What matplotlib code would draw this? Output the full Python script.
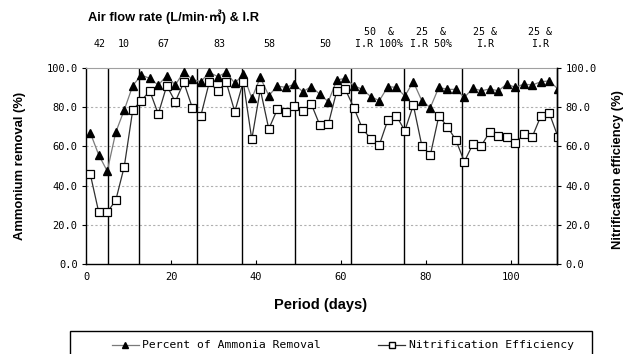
import matplotlib
matplotlib.use("Agg")
import matplotlib.pyplot as plt
from matplotlib.lines import Line2D
from matplotlib.patches import Rectangle
import matplotlib.transforms as mtransforms

# Sampling days (every second day)
days = list(range(1, 112, 2))

ammonia_removal = [67.0, 55.6, 47.4, 67.2, 78.6, 91.0, 96.4, 94.7, 91.3, 96.1,
                   91.3, 98.1, 94.2, 93.0, 97.8, 95.6, 97.8, 92.2, 96.8, 84.5,
                   95.2, 85.9, 90.8, 90.1, 91.7, 87.9, 90.5, 86.6, 82.8, 93.9,
                   94.7, 91.0, 89.1, 85.4, 83.3, 90.5, 90.1, 85.7, 93.0, 83.3,
                   79.8, 90.1, 89.1, 89.1, 85.0, 89.6, 88.4, 89.3, 88.4, 91.8,
                   90.1, 91.8, 91.3, 93.0, 93.4, 89.3]

nitrification = [45.9, 26.4, 26.4, 32.5, 49.7, 78.6, 83.3, 88.3, 76.5, 91.0,
                 82.8, 92.7, 79.8, 75.5, 92.7, 88.3, 92.7, 77.7, 93.0, 63.6,
                 89.1, 68.9, 78.9, 77.7, 80.6, 78.2, 81.6, 70.9, 71.3, 88.4,
                 89.1, 79.8, 69.2, 63.8, 60.7, 73.5, 75.7, 68.0, 81.1, 60.4,
                 55.6, 75.5, 70.1, 63.3, 52.2, 61.1, 60.4, 67.5, 65.5, 65.0,
                 61.6, 66.3, 65.0, 75.5, 76.9, 65.0]

# Days at which operating conditions changed
phase_boundaries = [5.1, 12.5, 26.1, 36.8, 49.2, 62.4, 74.8, 88.4, 101.6]

# Operating condition labels and their positions along the day axis
phase_labels = ["42", "10", "67", "83", "58", "50",
                "50  &\nI.R 100%", "25  &\nI.R 50%", "25 &\nI.R", "25 &\nI.R"]
phase_label_days = [3.1, 9.0, 18.2, 31.4, 43.1, 56.2, 68.9, 81.2, 93.9, 106.8]

W, H = 637, 354
fig = plt.figure(figsize=(W / 100, H / 100), dpi=100)
ax = fig.add_axes([86 / W, 1 - 264 / H, (557 - 86) / W, (264 - 68) / H])

sans = ["Liberation Sans", "Noto Sans CJK KR", "DejaVu Sans"]
mono = ["DejaVu Sans Mono"]

ax.set_xlim(0, 110.8)
ax.set_ylim(0, 100)

for yv in [20, 40, 60, 80]:
    ax.axhline(yv, color="#b0b0b0", lw=0.8, ls=(0, (2, 2)), zorder=0)

for d in phase_boundaries:
    ax.axvline(d, color="black", lw=1.0, zorder=1)

ax.plot(days, ammonia_removal, color="#7a7a7a", lw=0.9, marker="^",
        markersize=6, markerfacecolor="black", markeredgecolor="black",
        zorder=3)
ax.plot(days, nitrification, color="#303030", lw=0.9, marker="s",
        markersize=5.2, markerfacecolor="white", markeredgecolor="black",
        markeredgewidth=0.9, zorder=4)

# Axes styling
ax.spines["top"].set_color("#a0a0a0")
ax.spines["top"].set_linewidth(0.8)
for s in ["left", "bottom", "right"]:
    ax.spines[s].set_linewidth(1.0)
    ax.spines[s].set_color("black")

ax.set_xticks([0, 20, 40, 60, 80, 100])
ax.tick_params(axis="x", direction="in", length=3, width=0.8, pad=6,
               labelsize=7.5)
ax.set_yticks([0, 20, 40, 60, 80, 100])
ax.set_yticklabels([f"{v:.1f}" for v in [0, 20, 40, 60, 80, 100]])
ax.tick_params(axis="y", direction="out", length=3, width=0.8, pad=3,
               labelsize=7.5)
for lbl in ax.get_xticklabels() + ax.get_yticklabels():
    lbl.set_family(mono)

ax2 = ax.twinx()
ax2.set_ylim(0, 100)
ax2.set_yticks([0, 20, 40, 60, 80, 100])
ax2.set_yticklabels([f"{v:.1f}" for v in [0, 20, 40, 60, 80, 100]])
ax2.tick_params(axis="y", direction="out", length=3, width=0.8, pad=3,
                labelsize=7.5)
for lbl in ax2.get_yticklabels():
    lbl.set_family(mono)
ax2.spines["top"].set_visible(False)
ax2.spines["left"].set_visible(False)
ax2.spines["bottom"].set_visible(False)
ax2.spines["right"].set_linewidth(1.0)

# Axis titles
fig.text(20 / W, 1 - 166 / H, "Ammonium removal (%)", rotation=90,
         ha="center", va="center", fontsize=9.4, family=sans, weight="bold")
fig.text(618 / W, 1 - 170 / H, "Nitrification efficiency (%)", rotation=90,
         ha="center", va="center", fontsize=9.4, family=sans, weight="bold")
fig.text(321 / W, 1 - 305 / H, "Period (days)", ha="center", va="center",
         fontsize=10.5, family=sans, weight="bold")
fig.text(88 / W, 1 - 17 / H, "Air flow rate (L/min\u00b7\u33a5) & I.R",
         ha="left", va="center", fontsize=9.3, family=sans, weight="bold")

# Condition labels above the plot
trans = mtransforms.blended_transform_factory(ax.transData, fig.transFigure)
for lab, d in zip(phase_labels, phase_label_days):
    fig.text(d, 1 - 47 / H, lab, transform=trans, ha="center",
             va="baseline", fontsize=7.2, family=mono, linespacing=1.25,
             multialignment="center")

# Legend (box runs off the bottom edge)
fig.patches.append(Rectangle((70 / W, -0.1), (592 - 70) / W,
                             0.1 + 1 - 331 / H, transform=fig.transFigure,
                             fill=False, edgecolor="black", lw=1.0))
handles = [
    Line2D([], [], color="#7a7a7a", lw=0.9, marker="^", markersize=5,
           markerfacecolor="black", markeredgecolor="black"),
    Line2D([], [], color="#303030", lw=0.9, marker="s", markersize=4,
           markerfacecolor="white", markeredgecolor="black"),
]
fig.legend(handles, ["Percent of Ammonia Removal", "Nitrification Efficiency"],
           loc="center left", bbox_to_anchor=(106 / W, 1 - 345.5 / H),
           ncol=2, frameon=False, borderpad=0, handlelength=2.4,
           handletextpad=0.3, columnspacing=5.0,
           prop={"family": mono, "size": 8.2})

fig.savefig("out.png", dpi=100)
